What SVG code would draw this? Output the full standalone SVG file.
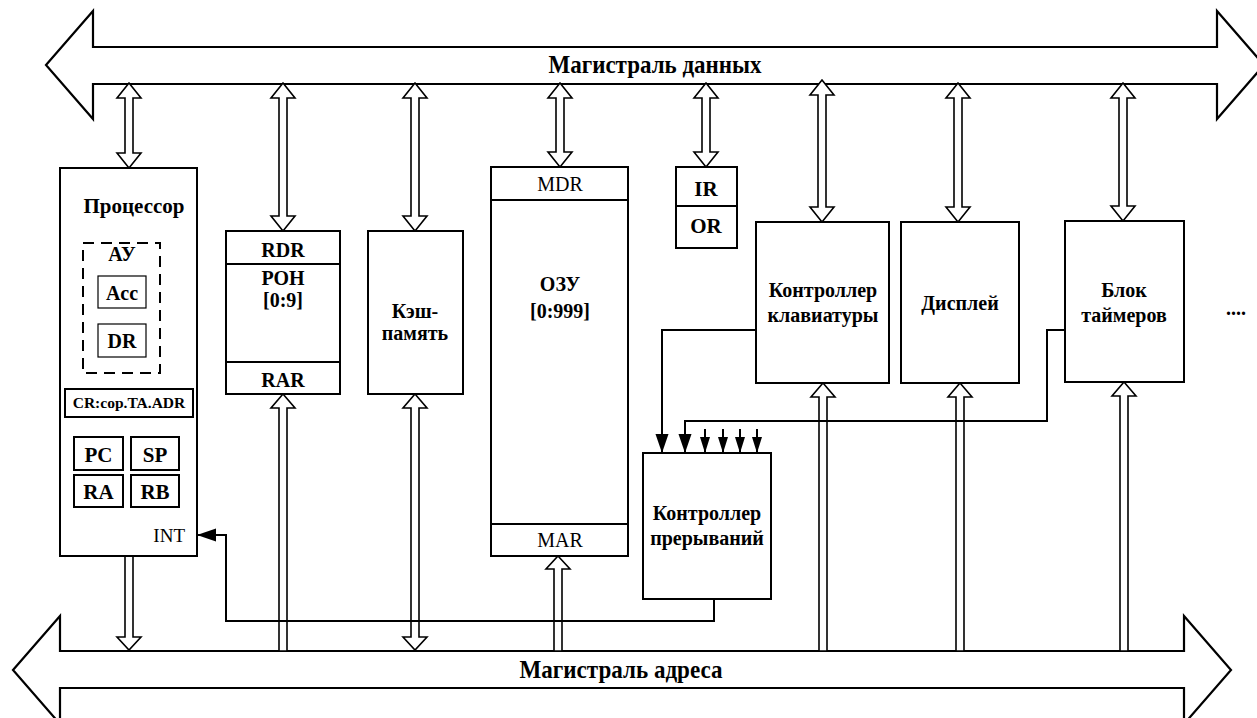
<svg xmlns="http://www.w3.org/2000/svg" width="1257" height="718" viewBox="0 0 1257 718">
<style>
.bus{fill:#fff;stroke:#000;stroke-width:2.2}
.bx{fill:#fff;stroke:#000;stroke-width:2}
.thin{fill:#fff;stroke:#000;stroke-width:1.2}
.dash{fill:none;stroke:#000;stroke-width:2;stroke-dasharray:11,7}
.ar{fill:#fff;stroke:#000;stroke-width:1.6}
.w{fill:none;stroke:#000;stroke-width:2}
.t{font-family:"Liberation Serif","Times New Roman",serif;font-weight:bold;font-size:20px;text-anchor:middle;fill:#000}
.n{font-weight:normal}
</style>
<defs>
<marker id="ah" markerUnits="userSpaceOnUse" markerWidth="20" markerHeight="14" refX="19" refY="6.5" orient="auto"><path d="M0,0 L19,6.5 L0,13 z" fill="#000"/></marker>
<marker id="as" markerUnits="userSpaceOnUse" markerWidth="18" markerHeight="12" refX="16" refY="5" orient="auto"><path d="M0,0 L16,5 L0,10 z" fill="#000"/></marker>
</defs>
<g id="data-bus">
<polygon class="bus" points="46,65 93,11 93,47 1217,47 1217,11 1264,65 1217,119 1217,84 93,84 93,119"/>
<text class="t" x="655" y="73" style="font-size:25px" textLength="213" lengthAdjust="spacingAndGlyphs">Магистраль данных</text>
</g>
<g id="address-bus">
<polygon class="bus" points="13,670 60,616 60,651 1184,651 1184,616 1231,670 1184,724 1184,688 60,688 60,724"/>
<text class="t" x="621" y="678" style="font-size:25px" textLength="203" lengthAdjust="spacingAndGlyphs">Магистраль адреса</text>
</g>
<g id="connectors">
<polygon class="ar" points="129,83 141,98 133,98 133,153 141,153 129,168 117,153 125,153 125,98 117,98"/>
<polygon class="ar" points="283,83 295,98 287,98 287,216 295,216 283,231 271,216 279,216 279,98 271,98"/>
<polygon class="ar" points="415,83 427,98 419,98 419,216 427,216 415,231 403,216 411,216 411,98 403,98"/>
<polygon class="ar" points="560,83 572,98 564,98 564,152 572,152 560,167 548,152 556,152 556,98 548,98"/>
<polygon class="ar" points="706,83 718,98 710,98 710,152 718,152 706,167 694,152 702,152 702,98 694,98"/>
<polygon class="ar" points="822,80 834,95 826,95 826,207 834,207 822,222 810,207 818,207 818,95 810,95"/>
<polygon class="ar" points="958,83 970,98 962,98 962,207 970,207 958,222 946,207 954,207 954,98 946,98"/>
<polygon class="ar" points="1123,83 1135,98 1127,98 1127,206 1135,206 1123,221 1111,206 1119,206 1119,98 1111,98"/>
<polygon class="ar" points="125,556 133,556 133,637 141,637 129,650 117,637 125,637"/>
<polygon class="ar" points="283,394 295,408 287,408 287,651 279,651 279,408 271,408"/>
<polygon class="ar" points="415,394 427,408 419,408 419,637 427,637 415,650 403,637 411,637 411,408 403,408"/>
<polygon class="ar" points="558,556 570,569 562,569 562,651 554,651 554,569 546,569"/>
<polygon class="ar" points="823,383 835,397 827,397 827,651 819,651 819,397 811,397"/>
<polygon class="ar" points="960,383 972,397 964,397 964,651 956,651 956,397 948,397"/>
<polygon class="ar" points="1124,382 1136,396 1128,396 1128,651 1120,651 1120,396 1112,396"/>
<path class="w" d="M756,330 H662 V453" marker-end="url(#ah)"/>
<path class="w" d="M1065,330 H1047 V421 H685 V453" marker-end="url(#ah)"/>
<path class="w" d="M705,429 V453" marker-end="url(#as)"/>
<path class="w" d="M723,429 V453" marker-end="url(#as)"/>
<path class="w" d="M740,429 V453" marker-end="url(#as)"/>
<path class="w" d="M757,429 V453" marker-end="url(#as)"/>
<path class="w" d="M714,599 V621 H226 V535 H197" marker-end="url(#ah)"/>
</g>
<g id="processor">
<rect class="bx" x="60" y="168" width="137" height="388"/>
<text class="t" x="134" y="213" style="font-size:21px">Процессор</text>
<rect class="dash" x="83" y="243" width="77" height="130"/>
<text class="t" x="122" y="261">АУ</text>
<rect class="thin" x="98" y="276" width="48" height="32"/>
<text class="t" x="122" y="300">Acc</text>
<rect class="thin" x="98" y="324" width="48" height="33"/>
<text class="t" x="122" y="348">DR</text>
<rect class="bx" x="65" y="389" width="128" height="28"/>
<text class="t" x="129" y="408" style="font-size:15.5px">CR:cop.TA.ADR</text>
<rect class="bx" x="74" y="437" width="49" height="33"/>
<text class="t" x="98.5" y="462" style="font-size:21px">PC</text>
<rect class="bx" x="131" y="437" width="48" height="33"/>
<text class="t" x="155" y="462" style="font-size:21px">SP</text>
<rect class="bx" x="74" y="475" width="49" height="32"/>
<text class="t" x="98.5" y="499" style="font-size:21px">RA</text>
<rect class="bx" x="131" y="475" width="48" height="32"/>
<text class="t" x="155" y="499" style="font-size:21px">RB</text>
<text class="t n" x="185" y="542" style="font-size:19px;text-anchor:end">INT</text>
</g>
<g id="roh">
<rect class="bx" x="226" y="231" width="114" height="163"/>
<line class="w" x1="226" y1="264" x2="340" y2="264"/>
<line class="w" x1="226" y1="362" x2="340" y2="362"/>
<text class="t" x="283" y="257">RDR</text>
<text class="t" x="283" y="285">РОН</text>
<text class="t" x="283" y="307">[0:9]</text>
<text class="t" x="283" y="387">RAR</text>
</g>
<g id="cache">
<rect class="bx" x="368" y="231" width="95" height="163"/>
<text class="t" x="415" y="318">Кэш-</text>
<text class="t" x="415" y="340">память</text>
</g>
<g id="ram">
<rect class="bx" x="491" y="167" width="137" height="389"/>
<line class="w" x1="491" y1="200" x2="628" y2="200"/>
<line class="w" x1="491" y1="524" x2="628" y2="524"/>
<text class="t n" x="560" y="191">MDR</text>
<text class="t" x="560" y="291">ОЗУ</text>
<text class="t" x="560" y="318">[0:999]</text>
<text class="t n" x="560" y="547">MAR</text>
</g>
<g id="ir-or">
<rect class="bx" x="676" y="167" width="61" height="81"/>
<line class="w" x1="676" y1="206" x2="737" y2="206"/>
<text class="t" x="706" y="196" style="font-size:21px">IR</text>
<text class="t" x="706" y="233" style="font-size:21px">OR</text>
</g>
<g id="keyboard">
<rect class="bx" x="756" y="222" width="133" height="161"/>
<text class="t" x="823" y="297">Контроллер</text>
<text class="t" x="823" y="322">клавиатуры</text>
</g>
<g id="display">
<rect class="bx" x="901" y="222" width="118" height="161"/>
<text class="t" x="960" y="310">Дисплей</text>
</g>
<g id="timers">
<rect class="bx" x="1065" y="221" width="119" height="161"/>
<text class="t" x="1124" y="297">Блок</text>
<text class="t" x="1124" y="322">таймеров</text>
</g>
<g id="more">
<text class="t" x="1236" y="315">....</text>
</g>
<g id="interrupt-controller">
<rect class="bx" x="643" y="453" width="128" height="146"/>
<text class="t" x="707" y="520">Контроллер</text>
<text class="t" x="707" y="545">прерываний</text>
</g>
</svg>
